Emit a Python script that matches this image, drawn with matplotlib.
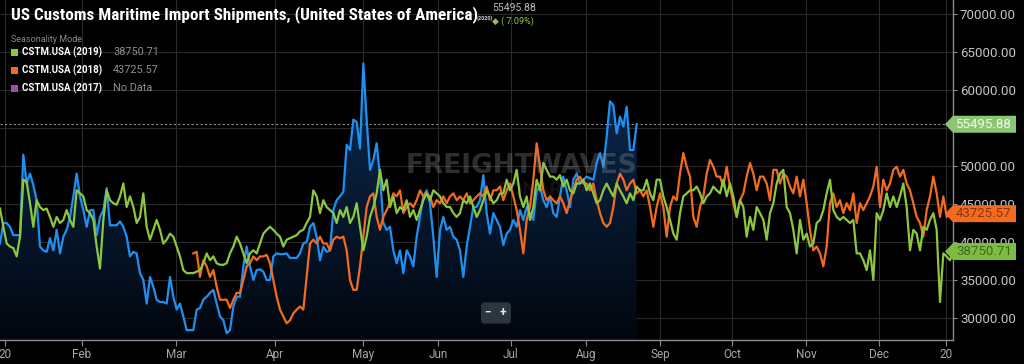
import numpy as np
import matplotlib.pyplot as plt
from matplotlib import font_manager
from matplotlib.patches import Polygon, Rectangle
from matplotlib.colors import LinearSegmentedColormap

plt.rcParams['font.family'] = ['Roboto', 'DejaVu Sans']

# ---- data (daily import shipments, seasonality mode) ----
# 2020 series, one value per point starting at the left edge
cstm_2020 = [
    39800, 42500, 42500, 42000, 40900, 40900, 40900, 51500, 47700, 49000,
    47500, 45500, 39400, 38900, 38700, 40500, 38900, 41600, 38500, 40700,
    41600, 43300, 46000, 49000, 46000, 44200, 42000, 44200, 44200, 40900,
    43300, 44200, 47100, 42200, 42200, 42200, 42700, 42000, 40700, 38100,
    38700, 38500, 35900, 35000, 31900, 35400, 34100, 32400, 32100, 32100,
    31900, 35400, 32800, 31100, 31900, 30200, 28400, 28400, 28400, 31100,
    31300, 32400, 32800, 33300, 33700, 31900, 30200, 29700, 28000, 28400,
    31500, 32800,
    32800, 36800, 39400, 36800, 35000, 36300, 36400, 36100, 35000, 35000,
    38100, 38500, 38400, 38400, 38500, 37900, 37900, 37900, 38500, 39800,
    40000, 42000, 42500, 40700, 37600, 39400, 38700, 38900, 44200, 45500,
    46000, 46600, 52800, 52100, 56100, 55800, 52300, 63500, 56100, 49500,
    50800, 53000, 48600, 42500, 41600, 42000, 38900, 37200, 38900, 35900,
    38900, 38100, 36800, 40700, 43300, 46000, 46800, 45100, 40700, 35400,
    41600, 43300, 41600, 42000, 40700, 40300, 38900, 35400, 39400, 42000,
    44600, 44600,
    45500, 48800, 43800, 41100, 43800, 42900, 42000, 39600, 41100, 41600,
    42900, 42000, 44200, 42900, 44600, 43800, 42900, 46800, 47300, 45500,
    44600, 46000, 43800, 43300, 46000, 48600, 46800, 44600, 48200, 49000,
    47700, 48200, 48600, 48400, 48200, 50400, 51700, 49900, 53900, 58500,
    58000, 54300, 56500, 55200, 57800, 52100, 52100, 55495.88,
]

cstm_2019 = [
    44400, 42000, 39800, 39400, 39200, 38100, 40700, 48200, 47900, 45100,
    42000, 45500, 44600, 44200, 44400, 43300, 42000, 43300, 42500, 42900,
    44200, 42900, 42000, 46800, 46400, 46000, 44200, 43800, 42900, 39400,
    36500, 42900, 46800, 45500, 45100, 44900, 46000, 47700, 44600, 46000,
    44600, 42500, 43300, 46400, 42000, 40300, 41600, 42900, 41600, 39800,
    40300, 41100, 40700, 39400, 38100, 36300, 35900, 35900, 35900, 36100,
    36300, 37200, 38500, 37600, 38100, 37200, 37000, 37000, 37200, 38500,
    39400, 40700,
    39800, 38500, 37200, 38500, 38900, 38500, 39800, 41100, 41600, 42000,
    41600, 41100, 40700, 39400, 40300, 40500, 40700, 40900, 41400, 41600,
    42500, 43300, 46800, 46000, 43800, 45500, 44600, 44200, 43800, 42500,
    44200, 43300, 44600, 42500, 43300, 45100, 42000, 38900, 40700, 43300,
    44600, 46400, 49500, 46800, 48200, 44600, 46000, 43800, 44600, 44200,
    45500, 43300, 44200, 42900, 44200, 45500, 46400, 45500, 46800, 46400,
    46000, 45100, 44600, 44600, 43800, 43300, 43800, 45500, 45100, 46000,
    44600, 43300,
    44200, 45500, 46800, 46000, 45100, 45500, 46400, 46400, 48200, 46800,
    47700, 49500, 46000, 44600, 46000, 42900, 44600, 48200, 46800, 50400,
    49500, 48600, 48600, 48200, 48800, 47300, 48200, 46800, 46400, 47700,
    47700, 48200, 46800, 47700, 46400, 45100, 45500, 46800, 47700, 46800,
    46000, 47700, 46800, 46000, 45100, 46400, 45500, 47300, 46800, 46800,
    48200, 46400, 45500, 48200, 48200, 46000, 44600, 42900, 41100, 40300,
    43800, 46000, 46400, 46800, 46800, 47300, 46400, 45100, 46000, 46400,
    47300, 46800,
    46400, 48200, 46000, 47700, 46000, 43300, 45500, 44600, 40700, 43300,
    41600, 44600, 43800, 42900, 40300, 43800, 45100, 47700, 49000, 49500,
    44600, 43800, 41600, 38500, 42900, 40300, 41100, 39400, 39800, 42500,
    42900, 44200, 46400, 48200, 44200, 43300, 42900, 43300, 42900, 42500,
    42900, 38500, 38500, 37600, 36300, 38900, 35000, 43800, 42900, 44200,
    46400, 44600, 46000, 44600, 46000, 47700, 44600, 38900, 41600, 41100,
    38900, 42000, 41600, 42900, 43800, 41600, 32100, 38500, 38100, 37600,
    38750.71,
]

# 2018 series starts later (early March)
start_2018 = 58
cstm_2018 = [
    38500, 38700, 35400, 37600, 36800, 35400, 36300, 34100, 32400, 32400,
    32400, 31300, 32400, 33300,
    33300, 35000, 36800, 37200, 38100, 37600, 38100, 38100, 38300, 37200,
    35000, 32800, 31100, 30200, 29300, 29700, 30600, 31100, 31500, 31100,
    35400, 39800, 40300, 39800, 40700, 39800, 39800, 38900, 40300, 40700,
    40500, 40700, 38900, 35000, 33700, 33700, 36800, 40700, 44600, 46000,
    46400, 43300, 41600, 43300, 44200, 45100, 46400, 46000, 46800, 43800,
    44600, 45100, 44600, 45500, 46800, 46000, 46400, 46000, 44600, 45500,
    45100, 46000, 45100, 46000, 46400, 45500, 46000, 45500, 46400, 45100,
    45500, 46000,
    46400, 46000, 47300, 45500, 46800, 46800, 47300, 45500, 46800, 47700,
    46000, 44200, 41600, 38500, 42900, 44600, 48200, 53000, 49900, 46800,
    45500, 46000, 45500, 45100, 46000, 45100, 43800, 45500, 46800, 48200,
    48600, 47700, 47700, 46800, 47700, 45500, 43800, 42500, 42000, 42500,
    44600, 47700, 49000, 48200, 46800, 47700, 48200, 46400, 46800, 46000,
    46800, 44600, 42000, 44600, 46400, 44600, 40700, 44600, 46000, 45500,
    49000, 51700, 49900, 48600, 43300, 42000, 44600, 46000, 49000, 50800,
    49900, 48600,
    48600, 47300, 49900, 47300, 45100, 43300, 45500, 46400, 48600, 50400,
    49000, 46800, 48600, 48600, 47700, 45500, 49500, 49500, 47700, 49000,
    48600, 47300, 46400, 48600, 46000, 48200, 45100, 41600, 38900, 39400,
    38500, 36800, 39400, 45100, 46400, 44600, 45500, 43800, 45100, 44200,
    46400, 42500, 45100, 44200, 45100, 46000, 47300, 49900, 44600, 48200,
    46800, 47700, 49500, 49900, 48600, 49500, 47700, 46800, 45100, 43300,
    42500, 40700, 44200, 46000, 48600, 46400, 43300, 46000, 43300, 43800,
    43725.57,
]

month_labels = ['20', 'Feb', 'Mar', 'Apr', 'May', 'Jun', 'Jul', 'Aug', 'Sep',
                'Oct', 'Nov', 'Dec', '20']
month_pos = [1.5, 24.6, 52.8, 82.5, 108.9, 131.4, 153.3, 175.8, 198.0,
             219.6, 241.8, 263.7, 283.8]

legend_names = ['CSTM.USA (2019)', 'CSTM.USA (2018)', 'CSTM.USA (2017)']
legend_values = ['38750.71', '43725.57', 'No Data']
legend_colors = ['#8dc63f', '#f26b21', '#9b4fb0']

change_pct = 7.09

# ---- figure ----
W, H = 1024, 364
fig = plt.figure(figsize=(W / 100, H / 100), dpi=100, facecolor='black')
ax = fig.add_axes([0, 24 / H, 953 / W, 340 / H])
ax.set_facecolor('black')

ymin, ymax = 27100, 71850
xmax = 285.9

x20 = np.arange(len(cstm_2020))
x19 = np.arange(len(cstm_2019))
x18 = np.arange(len(cstm_2018)) + start_2018

# gradient fill under 2020
fill = ax.fill_between(x20, cstm_2020, ymin, color='none', lw=0)
cmap = LinearSegmentedColormap.from_list('navy', ['#02070f', '#0c2c53'])
grad = np.linspace(1, 0, 256).reshape(-1, 1)
img = ax.imshow(grad, extent=[0, x20[-1], ymin, 64000], aspect='auto',
                cmap=cmap, origin='upper', zorder=1)
img.set_clip_path(fill.get_paths()[0], transform=ax.transData)

ax.plot(x20, cstm_2020, color='#1e90f0', lw=1.6, zorder=3)
ax.plot(x18, cstm_2018, color='#f26b21', lw=1.6, zorder=4)
ax.plot(x19, cstm_2019, color='#8dc63f', lw=1.6, zorder=5)

ax.axhline(cstm_2020[-1], color='#909090', ls=(0, (2, 2)), lw=0.8, zorder=2)

ax.set_xlim(0, xmax)
ax.set_ylim(ymin, ymax)

# 55000 label sits under the last-value tag, so it is left blank
ax.set_yticks(range(30000, 70001, 5000))
ax.yaxis.set_major_formatter(lambda v, p: '' if v == 55000 else f'{v:.2f}')
ax.yaxis.tick_right()
ax.set_xticks(month_pos)
ax.set_xticklabels(month_labels)
ax.tick_params(axis='y', colors='#8a8a8a', labelcolor='#c4c4c4', labelsize=9.5,
               length=3, pad=2)
ax.tick_params(axis='x', colors='#8a8a8a', labelcolor='#a8a8a8', labelsize=8.5,
               length=4, pad=2)
ax.grid(color='#2a2a2a', lw=0.8, zorder=0)
ax.set_axisbelow(True)
for s in ['left', 'top']:
    ax.spines[s].set_visible(False)
for s in ['right', 'bottom']:
    ax.spines[s].set_color('#8a8a8a')
    ax.spines[s].set_linewidth(1)

# last-value tags on the right axis
px_x = 1 / 953
px_y = (ymax - ymin) / 340
tags = [(cstm_2020[-1], '#8cc673', '#f4fbef'),
        (cstm_2018[-1], '#f26b21', '#8a3510'),
        (cstm_2019[-1], '#7dbb42', '#3b6a1d')]
for val, bg, fg in tags:
    pts = [(1 - 8 * px_x, val), (1, val + 8.5 * px_y),
           (1 + 63 * px_x, val + 8.5 * px_y), (1 + 63 * px_x, val - 8.5 * px_y),
           (1, val - 8.5 * px_y)]
    ax.add_patch(Polygon(pts, closed=True, fc=bg, ec='none', zorder=10,
                         clip_on=False, transform=ax.get_yaxis_transform()))
    ax.text(1 + 3 * px_x, val, f'{val:.2f}', color=fg, fontsize=9.5,
            va='center', ha='left', zorder=11, clip_on=False,
            transform=ax.get_yaxis_transform())

# watermark
fig.text(522 / W, 1 - 166 / H, 'FREIGHTWAVES', color='#9a9a9a', alpha=0.3,
         fontsize=19, weight='bold', ha='center', va='center', zorder=0.5,
         family=['DejaVu Sans'])
fig.text(530 / W, 1 - 190 / H, 'SONAR', color='#9a9a9a', alpha=0.12,
         fontsize=14, weight='bold', ha='center', va='center')

# zoom buttons
fig.text(496 / W, 1 - 313 / H, '\u2212   +', color='#e8e8e8', fontsize=8.5,
         weight='bold', ha='center', va='center',
         bbox=dict(boxstyle='round,pad=0.35', fc='#2b3640', ec='none'))

# title
names = {f.name for f in font_manager.fontManager.ttflist}
if 'Roboto Condensed' in names:
    tfam, tsize = 'Roboto Condensed', 12.3
else:
    tfam, tsize = 'Roboto', 9.8
fig.text(11 / W, 1 - 15 / H, 'US Customs Maritime Import Shipments, (United States of America)',
         color='white', fontsize=tsize, weight='bold', family=[tfam, 'DejaVu Sans'],
         ha='left', va='center')
fig.text(477 / W, 1 - 18 / H, '(2020)', color='#cfcfcf', fontsize=4,
         weight='bold', ha='left', va='center')
fig.text(492 / W, 1 - 8 / H, f'{cstm_2020[-1]:.2f}', color='#bdbdbd',
         fontsize=7.5, ha='left', va='center')
fig.text(492 / W, 1 - 21 / H, f'\u25c6 ( {change_pct:.2f}%)', color='#8dc63f',
         fontsize=6.5, ha='left', va='center', family=['Roboto', 'DejaVu Sans'])

# legend block
fig.text(11 / W, 1 - 39 / H, 'Seasonality Mode', color='#8a8a8a', fontsize=6.5,
         ha='left', va='center')
for i, (name, val, col) in enumerate(zip(legend_names, legend_values, legend_colors)):
    yc = 52 + 18 * i
    fig.patches.append(Rectangle((11 / W, 1 - (yc + 4) / H), 7 / W, 7 / H,
                                 fc=col, ec='none', transform=fig.transFigure))
    fig.text(22 / W, 1 - yc / H, name, color='white', fontsize=7, weight='bold',
             ha='left', va='center')
    fig.text(113 / W, 1 - yc / H, val, color='#8f8f8f', fontsize=7.8,
             ha='left', va='center')

fig.savefig('out.png', dpi=100, facecolor='black')
